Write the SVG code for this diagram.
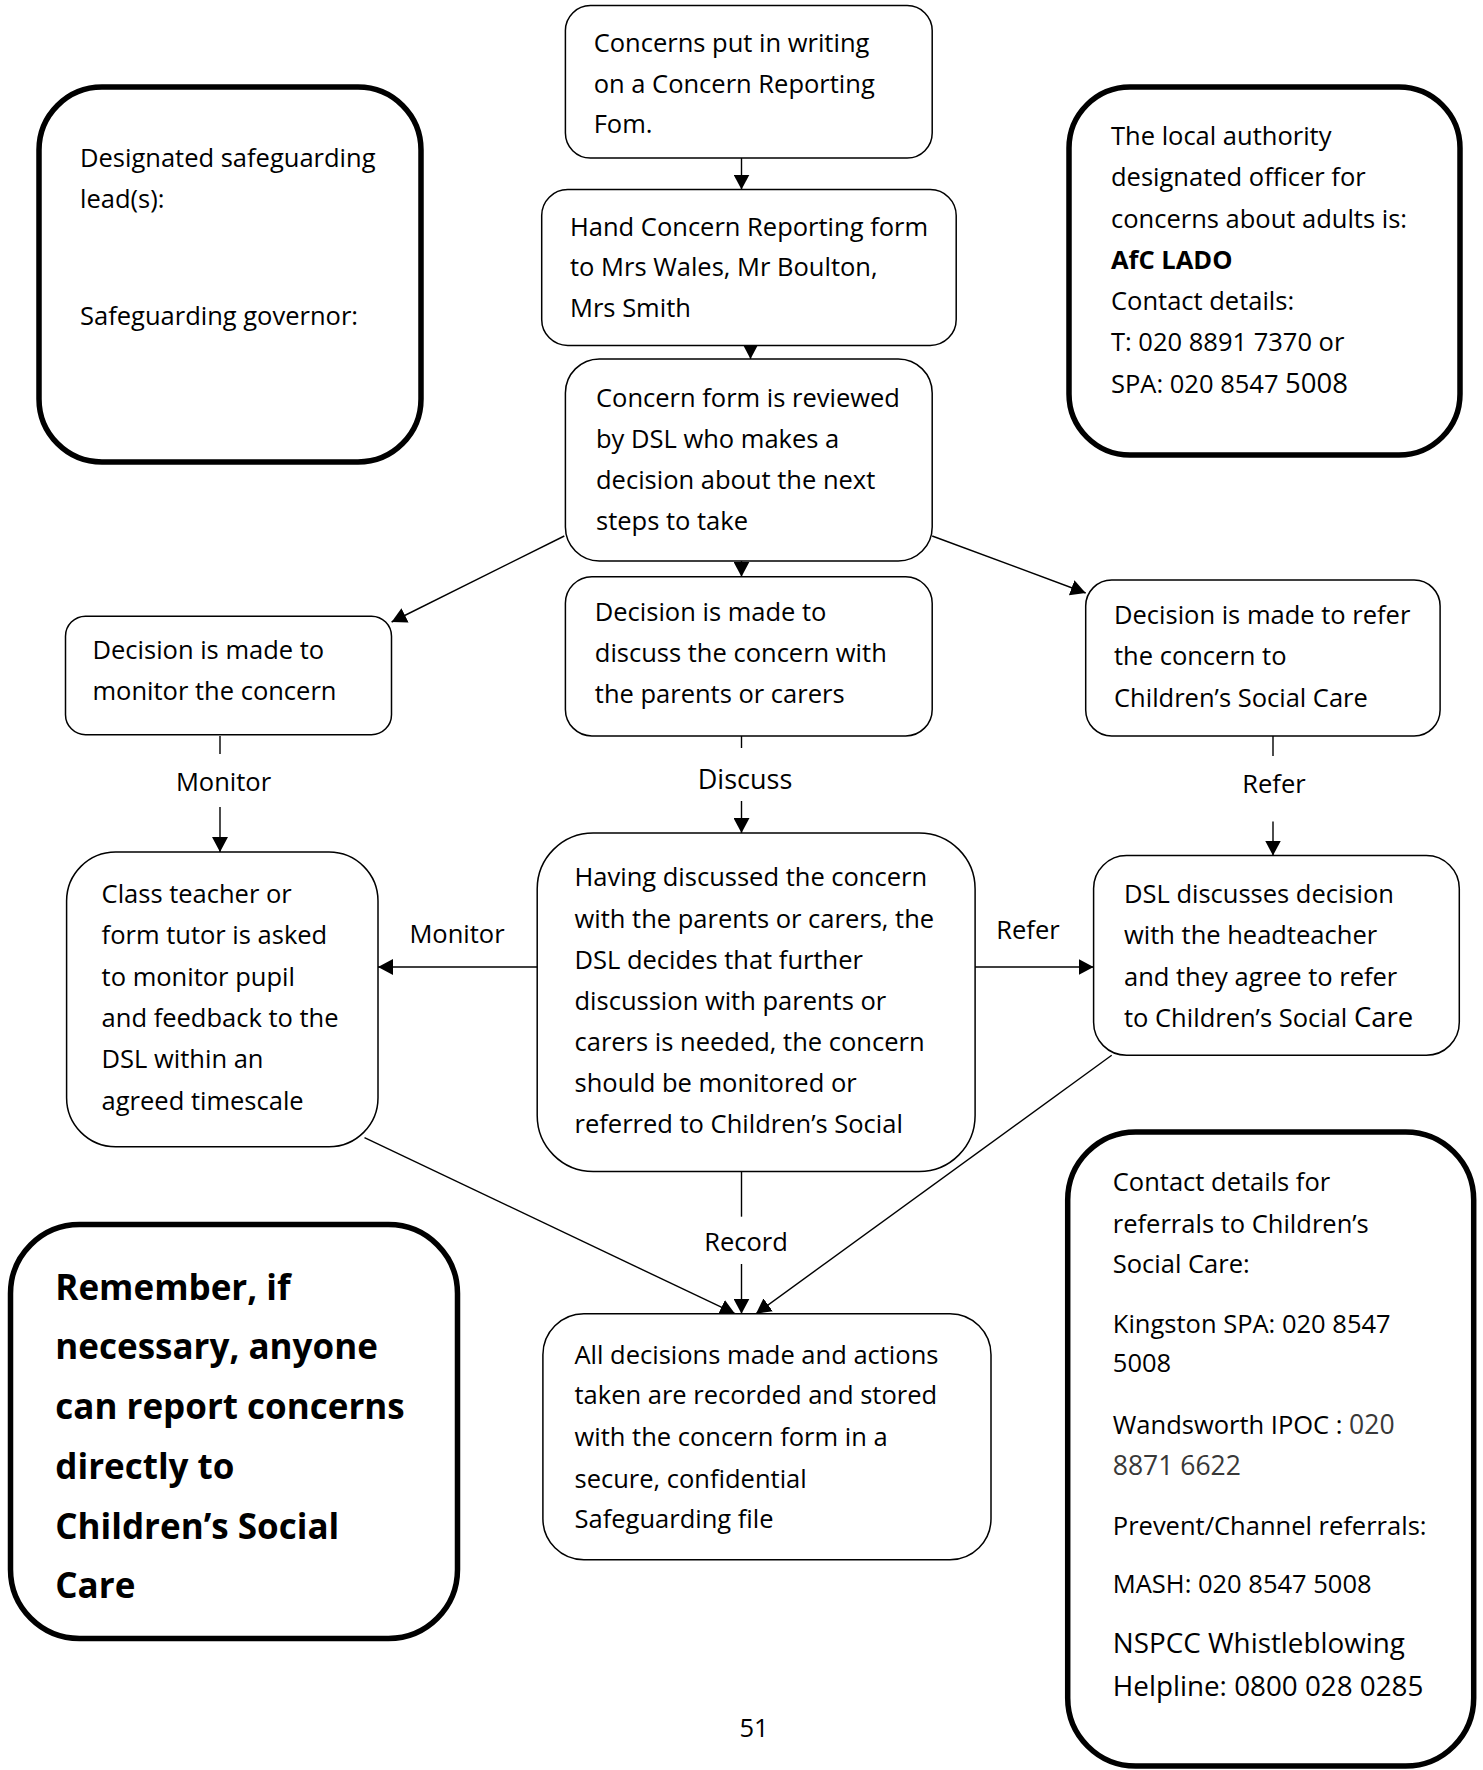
<svg xmlns="http://www.w3.org/2000/svg" width="1483" height="1770" viewBox="0 0 1483 1770">
<style>
.bg{fill:#ffffff}
.n{fill:#ffffff;stroke:#000;stroke-width:1.5}
.t{fill:#ffffff;stroke:#000;stroke-width:5.5}
.tx{font-family:"Open Sans","Liberation Sans",sans-serif;font-size:25.5px;fill:#000}
.b{font-weight:700}
.big{font-family:"Open Sans","Liberation Sans",sans-serif;font-size:35px;font-weight:700;fill:#000}
.lbl{font-family:"Open Sans","Liberation Sans",sans-serif;font-size:25.5px;fill:#000;text-anchor:middle}
.c{stroke:#000;stroke-width:1.4;fill:none}
.gray{fill:#383838}
</style>
<defs>
<marker id="ah" markerUnits="userSpaceOnUse" markerWidth="16" markerHeight="16" refX="15" refY="8" orient="auto">
<path d="M0,0 L15,8 L0,16 z" fill="#000"/>
</marker>
</defs>
<rect class="bg" x="0" y="0" width="1483" height="1770"/>

<g id="connectors">
<line class="c" x1="741.5" y1="158" x2="741.5" y2="189.6" marker-end="url(#ah)"/>
<line class="c" x1="750.5" y1="333" x2="750.5" y2="358.9" marker-end="url(#ah)"/>
<line class="c" x1="741.5" y1="547" x2="741.5" y2="576.7" marker-end="url(#ah)"/>
<line class="c" x1="564.3" y1="536" x2="391.6" y2="622" marker-end="url(#ah)"/>
<line class="c" x1="932.2" y1="536" x2="1085.7" y2="593" marker-end="url(#ah)"/>
<line class="c" x1="220" y1="736" x2="220" y2="754"/>
<line class="c" x1="220" y1="807" x2="220" y2="852" marker-end="url(#ah)"/>
<line class="c" x1="741.5" y1="736" x2="741.5" y2="748"/>
<line class="c" x1="741.5" y1="801" x2="741.5" y2="833" marker-end="url(#ah)"/>
<line class="c" x1="1273" y1="736" x2="1273" y2="756"/>
<line class="c" x1="1273" y1="821.6" x2="1273" y2="855.5" marker-end="url(#ah)"/>
<line class="c" x1="543" y1="967" x2="378" y2="967" marker-end="url(#ah)"/>
<line class="c" x1="975" y1="967" x2="1093.6" y2="967" marker-end="url(#ah)"/>
<line class="c" x1="741.5" y1="1171.5" x2="741.5" y2="1216.7"/>
<line class="c" x1="741.5" y1="1264" x2="741.5" y2="1313.7" marker-end="url(#ah)"/>
<line class="c" x1="364.5" y1="1137.6" x2="735" y2="1313.7" marker-end="url(#ah)"/>
<line class="c" x1="1111.7" y1="1055.3" x2="756" y2="1313.7" marker-end="url(#ah)"/>
<text class="lbl" x="223.5" y="791">Monitor</text>
<text class="lbl" x="745" y="789" style="font-size:27px">Discuss</text>
<text class="lbl" x="1274" y="793">Refer</text>
<text class="lbl" x="457" y="943">Monitor</text>
<text class="lbl" x="1028" y="939">Refer</text>
<text class="lbl" x="746" y="1251">Record</text>
</g>

<g id="dsl-info">
<rect class="t" x="39" y="87" width="382" height="375" rx="63"/>
<text class="tx" x="80" y="167">Designated safeguarding</text>
<text class="tx" x="80" y="208">lead(s):</text>
<text class="tx" x="80" y="325">Safeguarding governor:</text>
</g>

<g id="lado-info">
<rect class="t" x="1069" y="87" width="391" height="368" rx="61"/>
<text class="tx" x="1111" y="145">The local authority</text>
<text class="tx" x="1111" y="186">designated officer for</text>
<text class="tx" x="1111" y="227.5">concerns about adults is:</text>
<text class="tx b" x="1111" y="268.5">AfC LADO</text>
<text class="tx" x="1111" y="309.5">Contact details:</text>
<text class="tx" x="1111" y="351">T: 020 8891 7370 or</text>
<text class="tx" x="1111" y="393">SPA: 020 8547 <tspan style="font-size:27.5px">5008</tspan></text>
</g>

<g id="concerns-writing">
<rect class="n" x="565.4" y="5.6" width="366.8" height="152.4" rx="25"/>
<text class="tx" x="593.7" y="51.5">Concerns put in writing</text>
<text class="tx" x="593.7" y="92.5">on a Concern Reporting</text>
<text class="tx" x="593.7" y="133">Fom.</text>
</g>

<g id="hand-form">
<rect class="n" x="541.7" y="189.6" width="414.5" height="155.8" rx="26"/>
<text class="tx" x="570" y="235.5">Hand Concern Reporting form</text>
<text class="tx" x="570" y="276">to Mrs Wales, Mr Boulton,</text>
<text class="tx" x="570" y="317">Mrs Smith</text>
</g>

<g id="reviewed">
<rect class="n" x="565.4" y="358.9" width="366.8" height="202" rx="34"/>
<text class="tx" x="596" y="406.5">Concern form is reviewed</text>
<text class="tx" x="596" y="447.5">by DSL who makes a</text>
<text class="tx" x="596" y="489">decision about the next</text>
<text class="tx" x="596" y="529.5">steps to take</text>
</g>

<g id="decision-discuss">
<rect class="n" x="565.4" y="576.7" width="366.8" height="159.2" rx="26.5"/>
<text class="tx" x="594.8" y="621">Decision is made to</text>
<text class="tx" x="594.8" y="661.5">discuss the concern with</text>
<text class="tx" x="594.8" y="703">the parents or carers</text>
</g>

<g id="decision-monitor">
<rect class="n" x="65.5" y="616.2" width="326" height="118.5" rx="20"/>
<text class="tx" x="92.5" y="659">Decision is made to</text>
<text class="tx" x="92.5" y="700">monitor the concern</text>
</g>

<g id="decision-refer">
<rect class="n" x="1085.7" y="580" width="354.4" height="156" rx="26"/>
<text class="tx" x="1114" y="624">Decision is made to refer</text>
<text class="tx" x="1114" y="665">the concern to</text>
<text class="tx" x="1114" y="706.5">Children’s Social Care</text>
</g>

<g id="class-teacher">
<rect class="n" x="66.6" y="852" width="311.4" height="294.7" rx="49"/>
<text class="tx" x="101.6" y="903">Class teacher or</text>
<text class="tx" x="101.6" y="944">form tutor is asked</text>
<text class="tx" x="101.6" y="985.5">to monitor pupil</text>
<text class="tx" x="101.6" y="1027">and feedback to the</text>
<text class="tx" x="101.6" y="1068">DSL within an</text>
<text class="tx" x="101.6" y="1109.5">agreed timescale</text>
</g>

<g id="having-discussed">
<rect class="n" x="537.2" y="833" width="437.9" height="338.5" rx="56"/>
<text class="tx" x="574.5" y="886">Having discussed the concern</text>
<text class="tx" x="574.5" y="928">with the parents or carers, the</text>
<text class="tx" x="574.5" y="968.5">DSL decides that further</text>
<text class="tx" x="574.5" y="1010">discussion with parents or</text>
<text class="tx" x="574.5" y="1051">carers is needed, the concern</text>
<text class="tx" x="574.5" y="1091.5">should be monitored or</text>
<text class="tx" x="574.5" y="1133">referred to Children’s Social</text>
</g>

<g id="dsl-discusses">
<rect class="n" x="1093.6" y="855.5" width="365.7" height="199.8" rx="33"/>
<text class="tx" x="1124" y="903">DSL discusses decision</text>
<text class="tx" x="1124" y="944">with the headteacher</text>
<text class="tx" x="1124" y="985.5">and they agree to refer</text>
<text class="tx" x="1124" y="1027">to Children’s Social <tspan style="font-size:27.5px">Care</tspan></text>
</g>

<g id="all-decisions">
<rect class="n" x="542.9" y="1313.7" width="448.1" height="246.1" rx="41"/>
<text class="tx" x="574.5" y="1363.5">All decisions made and actions</text>
<text class="tx" x="574.5" y="1404">taken are recorded and stored</text>
<text class="tx" x="574.5" y="1446">with the concern form in a</text>
<text class="tx" x="574.5" y="1487.5">secure, confidential</text>
<text class="tx" x="574.5" y="1528">Safeguarding file</text>
</g>

<g id="remember">
<rect class="t" x="10.5" y="1224.5" width="447" height="414" rx="69"/>
<text class="big" x="55.3" y="1299.5">Remember, if</text>
<text class="big" x="55.3" y="1359.3">necessary, anyone</text>
<text class="big" x="55.3" y="1419">can report concerns</text>
<text class="big" x="55.3" y="1478.8">directly to</text>
<text class="big" x="55.3" y="1538.6">Children’s Social</text>
<text class="big" x="55.3" y="1598.4">Care</text>
</g>

<g id="contacts">
<rect class="t" x="1067.7" y="1132" width="406" height="634" rx="68"/>
<text class="tx" x="1112.8" y="1191">Contact details for</text>
<text class="tx" x="1112.8" y="1232.5">referrals to Children’s</text>
<text class="tx" x="1112.8" y="1273">Social Care:</text>
<text class="tx" x="1112.8" y="1333">Kingston SPA: 020 8547</text>
<text class="tx" x="1112.8" y="1371.5">5008</text>
<text class="tx" x="1112.8" y="1433.5">Wandsworth IPOC : <tspan class="gray" style="font-size:26.5px">020</tspan></text>
<text class="tx gray" x="1112.8" y="1475" style="font-size:26.5px">8871 6622</text>
<text class="tx" x="1112.8" y="1535">Prevent/Channel referrals:</text>
<text class="tx" x="1112.8" y="1592.5">MASH: 020 8547 5008</text>
<text class="tx" x="1112.8" y="1653" style="font-size:27.8px">NSPCC Whistleblowing</text>
<text class="tx" x="1112.8" y="1696" style="font-size:27.8px">Helpline: 0800 028 0285</text>
</g>

<g id="page-number">
<text class="lbl" x="754" y="1737">51</text>
</g>
</svg>
